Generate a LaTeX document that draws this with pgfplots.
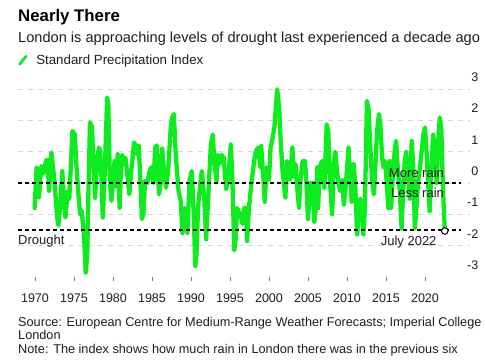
\documentclass[border=0pt]{standalone}
\usepackage{pgfplots}
\pgfplotsset{compat=1.18}
\usepackage{fontspec}
\setmainfont{Liberation Sans}
\definecolor{spi}{RGB}{14,235,30}
\definecolor{gridgray}{RGB}{212,212,212}
\definecolor{tickgray}{RGB}{120,120,120}
\definecolor{txt}{RGB}{30,30,30}
\begin{document}
\begin{tikzpicture}
\path[use as bounding box] (0pt,0pt) rectangle (485pt,-360pt);
\node[anchor=base west, inner sep=0pt, text=black, font=\fontsize{16.8}{20}\selectfont\bfseries] at (18pt,-21.5pt) {Nearly There};
\node[anchor=base west, inner sep=0pt, text=txt, font=\fontsize{14.6}{17}\selectfont] at (18pt,-42pt) {London is approaching levels of drought last experienced a decade ago};
\node[anchor=base west, inner sep=0pt, text=txt, font=\fontsize{12.7}{14}\selectfont] at (18pt,-326.5pt) {Source: European Centre for Medium-Range Weather Forecasts; Imperial College};
\node[anchor=base west, inner sep=0pt, text=txt, font=\fontsize{12.7}{14}\selectfont] at (18pt,-339.5pt) {London};
\node[anchor=base west, inner sep=0pt, text=txt, font=\fontsize{12.7}{14}\selectfont] at (18pt,-353pt) {Note: The index shows how much rain in London there was in the previous six};
\begin{axis}[
  at={(18pt,-277pt)}, anchor=south west,
  scale only axis, width=452pt, height=188pt,
  xmin=1967.82, xmax=2025.77, ymin=-3, ymax=3,
  clip=false,
  axis x line*=bottom, axis y line*=right,
  x axis line style={draw=none}, y axis line style={draw=none},
  xtick={1970,1975,...,2020},
  xticklabels={1970,1975,1980,1985,1990,1995,2000,2005,2010,2015,2020},
  ytick={-2,-1,0,1,2,3},
  yticklabels={-2,-1,0,1,2,3},
  extra y ticks={-3}, extra y tick labels={-3},
  extra y tick style={grid=none},
  ymajorgrids=true,
  major grid style={gridgray, dash pattern=on 5pt off 5pt, line width=1pt},
  ytick style={draw=none},
  xtick style={tickgray, line width=0.8pt},
  tick align=outside, major tick length=4pt,
  yticklabel style={anchor=base east, inner sep=0pt, xshift=4.5pt, yshift=7.5pt, text=txt, font=\fontsize{12.5}{14}\selectfont},
  xticklabel style={anchor=base, inner sep=0pt, yshift=-21pt, text=txt, font=\fontsize{12.5}{14}\selectfont},
  legend style={at={(0,1)}, anchor=south west, draw=none, fill=none, inner sep=0pt, yshift=21pt, font=\fontsize{13.3}{15}\selectfont, text=txt},
  legend cell align=left,
  legend image code/.code={\draw[spi, line width=2.8pt, line cap=round] (0.5pt,-4pt) -- (7pt,4pt); \path (13pt,0pt);},
]
\addplot[spi, line width=4.3pt, line join=round, line cap=round] coordinates {
(1969.95,-0.80) (1970.2,0.49) (1970.5,-0.47) (1970.8,0.54) (1971.1,0.30) (1971.4,0.70) (1971.6,0.75) (1971.8,-0.25)
(1972.1,0.97) (1972.5,0.06) (1972.8,-1.00) (1973.0,-1.35) (1973.2,-0.80) (1973.5,0.38) (1973.7,-0.60) (1973.9,-1.10)
(1974.2,-0.25) (1974.4,-0.50) (1974.8,1.66) (1975.1,1.55) (1975.3,0.60) (1975.6,-0.47) (1975.8,-1.00) (1976.0,-0.90)
(1976.3,-1.75) (1976.5,-2.86) (1976.7,-2.30) (1976.85,-0.25) (1977.05,1.93) (1977.3,1.80) (1977.5,0.60) (1977.7,-0.47)
(1978.0,0.80) (1978.2,1.13) (1978.35,1.02) (1978.5,0.30) (1978.7,-1.10) (1978.9,0.05) (1979.25,2.73) (1979.4,2.50)
(1979.6,0.06) (1979.8,-0.57) (1980.0,0.06) (1980.2,0.70) (1980.4,-0.10) (1980.6,0.92) (1980.85,-0.79) (1981.0,0.30)
(1981.2,0.90) (1981.4,0.60) (1981.6,0.80) (1982.1,-0.36) (1982.3,0.30) (1982.7,1.29) (1982.9,1.20) (1983.1,0.90)
(1983.3,1.20) (1983.55,-0.15) (1983.7,-1.15) (1983.9,-1.00) (1984.1,0.06) (1984.4,0.00) (1984.7,0.38) (1984.9,0.50)
(1985.2,0.00) (1985.4,1.13) (1985.6,1.20) (1985.9,-0.36) (1986.1,0.00) (1986.3,1.10) (1986.5,0.50) (1986.8,-0.15)
(1987.1,0.50) (1987.4,1.77) (1987.6,2.10) (1987.8,2.20) (1988.0,1.13) (1988.2,0.38) (1988.4,-0.25) (1988.7,-0.60)
(1988.9,-1.60) (1989.2,-0.80) (1989.55,-1.60) (1989.8,0.06) (1990.1,0.38) (1990.35,-1.00) (1990.55,-2.65) (1990.7,-2.30)
(1990.9,-0.80) (1991.2,0.00) (1991.4,0.38) (1991.7,-0.50) (1991.95,-1.80) (1992.1,-1.00) (1992.3,0.00) (1992.55,1.23)
(1992.8,1.55) (1993.0,0.60) (1993.3,0.06) (1993.4,0.90) (1993.65,0.60) (1993.9,0.90) (1994.2,0.80) (1994.5,-0.20)
(1994.8,0.20) (1995.1,1.23) (1995.3,0.20) (1995.55,-2.15) (1995.75,-1.75) (1995.9,-0.80) (1996.3,-1.00) (1996.6,-1.30)
(1996.8,-0.80) (1997.0,-0.79) (1997.2,-1.85) (1997.4,-0.90) (1997.6,-0.36) (1997.85,0.20) (1998.1,0.70) (1998.3,1.00)
(1998.6,1.13) (1998.9,0.50) (1999.0,1.18) (1999.3,0.10) (1999.45,-0.60) (1999.7,0.50) (2000.0,0.10) (2000.2,1.13)
(2000.4,1.34) (2000.7,1.80) (2001.05,2.99) (2001.3,2.40) (2001.5,1.34) (2001.7,0.50) (2001.9,0.00) (2002.1,-0.47)
(2002.3,0.70) (2002.7,0.10) (2003.0,1.13) (2003.2,0.20) (2003.4,0.60) (2003.65,-0.25) (2003.85,-0.79) (2004.0,0.00)
(2004.3,0.70) (2004.6,0.70) (2004.8,0.00) (2005.0,-1.15) (2005.3,0.00) (2005.6,0.00) (2005.8,-1.25) (2006.0,-0.80)
(2006.2,0.50) (2006.3,-0.80) (2006.5,0.49) (2006.8,0.70) (2007.1,-0.15) (2007.4,1.87) (2007.6,1.66) (2007.8,0.10)
(2008.1,-1.00) (2008.3,0.60) (2008.5,1.00) (2008.75,0.30) (2009.1,-0.25) (2009.4,0.10) (2009.6,-0.70) (2009.9,0.10)
(2010.2,1.13) (2010.4,0.20) (2010.6,-0.60) (2010.85,0.60) (2011.05,0.00) (2011.3,-1.64) (2011.5,-1.00) (2011.7,-0.50)
(2011.9,-0.80) (2012.1,-1.64) (2012.3,-0.80) (2012.55,2.62) (2012.75,2.40) (2013.0,1.13) (2013.2,0.10) (2013.45,-0.36)
(2013.65,0.60) (2013.85,1.66) (2014.1,2.20) (2014.3,1.80) (2014.5,0.80) (2014.7,0.50) (2014.9,0.70) (2015.1,0.00)
(2015.3,-0.80) (2015.5,0.70) (2015.65,-0.79) (2015.85,0.10) (2016.15,1.13) (2016.3,1.34) (2016.5,0.50) (2016.75,-0.20)
(2017.0,-1.45) (2017.2,-0.20) (2017.4,0.70) (2017.6,1.00) (2017.8,0.30) (2018.05,-0.50) (2018.3,1.34) (2018.5,0.50)
(2018.7,-1.45) (2018.9,-0.80) (2019.1,0.00) (2019.35,0.50) (2019.8,1.55) (2020.0,1.77) (2020.2,1.00) (2020.4,0.00)
(2020.6,-0.90) (2020.8,0.30) (2021.05,1.55) (2021.25,1.13) (2021.5,0.00) (2021.7,1.34) (2021.9,2.09) (2022.1,1.66)
(2022.3,-0.15) (2022.54,-1.53)
};
\addlegendentry{Standard Precipitation Index}
\addplot[black, line width=1.2pt, dash pattern=on 4pt off 3pt, forget plot] coordinates {(1967.82,0) (2024.6,0)};
\addplot[black, line width=1.2pt, dash pattern=on 4pt off 3pt, forget plot] coordinates {(1967.82,-1.5) (2024.6,-1.5)};
\addplot[only marks, mark=*, mark size=3.3pt, mark options={fill=white, draw=black, line width=1pt}, forget plot] coordinates {(2022.54,-1.53)};
\node[anchor=base east, inner sep=0pt, text=txt, font=\fontsize{13}{15}\selectfont] at (axis cs:2022.45,0.16) {More rain};
\node[anchor=base east, inner sep=0pt, text=txt, font=\fontsize{13}{15}\selectfont] at (axis cs:2022.45,-0.45) {Less rain};
\node[anchor=base west, inner sep=0pt, text=txt, font=\fontsize{13}{15}\selectfont] at (axis cs:1967.82,-1.95) {Drought};
\node[anchor=base east, inner sep=0pt, text=txt, font=\fontsize{13}{15}\selectfont] at (axis cs:2021.5,-1.98) {July 2022};
\end{axis}
\end{tikzpicture}
\end{document}
